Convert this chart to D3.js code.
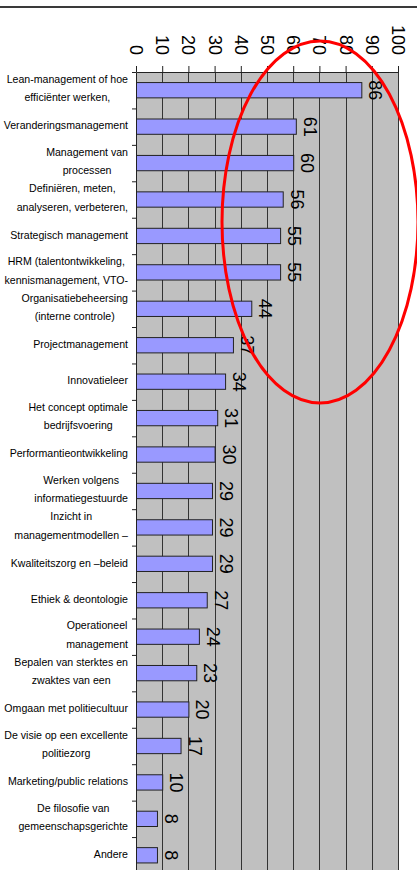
<!DOCTYPE html>
<html>
<head>
<meta charset="utf-8">
<script src="https://cdn.jsdelivr.net/npm/d3@7"></script>
<style>
  html, body { margin: 0; padding: 0; background: #fff; }
  svg { display: block; }
  text { font-family: "Liberation Sans", Arial, sans-serif; fill: #000; }
</style>
</head>
<body>
<svg id="chart" width="417" height="870"></svg>
<script>
const categories = [
  ["Lean-management of hoe", "efficiënter werken,"],
  ["Veranderingsmanagement"],
  ["Management van", "processen"],
  ["Definiëren, meten,", "analyseren, verbeteren,"],
  ["Strategisch management"],
  ["HRM (talentontwikkeling,", "kennismanagement, VTO-"],
  ["Organisatiebeheersing", "(interne controle)"],
  ["Projectmanagement"],
  ["Innovatieleer"],
  ["Het concept optimale", "bedrijfsvoering"],
  ["Performantieontwikkeling"],
  ["Werken volgens", "informatiegestuurde"],
  ["Inzicht in", "managementmodellen –"],
  ["Kwaliteitszorg en –beleid"],
  ["Ethiek & deontologie"],
  ["Operationeel", "management"],
  ["Bepalen van sterktes en", "zwaktes van een"],
  ["Omgaan met politiecultuur"],
  ["De visie op een excellente", "politiezorg"],
  ["Marketing/public relations"],
  ["De filosofie van", "gemeenschapsgerichte"],
  ["Andere"]
];
const values = [86, 61, 60, 56, 55, 55, 44, 37, 34, 31, 30, 29, 29, 29, 27, 24, 23, 20, 17, 10, 8, 8];
const tickValues = [0, 10, 20, 30, 40, 50, 60, 70, 80, 90, 100];

(function () {
const svg = d3.select("#chart");
const pLeft = 136, pRight = 398, pTop = 72, pBottom = 873.5;

const x = d3.scaleLinear().domain([0, 100]).range([pLeft, pRight]);
const idx = d3.range(categories.length);
const y = d3.scaleBand().domain(idx).range([pTop, pBottom]).paddingInner(0.58).paddingOuter(0.29);
const yb = d3.scaleLinear().domain([0, categories.length]).range([pTop, pBottom]);

// top rule
svg.append("line").attr("x1", 0).attr("x2", 417).attr("y1", 7).attr("y2", 7)
  .attr("stroke", "#3a3a3a").attr("stroke-width", 2);

// plot background
svg.append("rect").attr("x", pLeft).attr("y", pTop)
  .attr("width", pRight - pLeft).attr("height", pBottom - pTop)
  .attr("fill", "#C0C0C0");

// gridlines
svg.append("g").selectAll("line").data(tickValues.filter(d => d > 0)).join("line")
  .attr("x1", d => Math.round(x(d)) + 0.5).attr("x2", d => Math.round(x(d)) + 0.5)
  .attr("y1", pTop).attr("y2", pBottom)
  .attr("stroke", "#333").attr("stroke-width", 1);

// bars
svg.append("g").selectAll("rect").data(values).join("rect")
  .attr("x", x(0) + 0.5)
  .attr("y", (d, i) => y(i))
  .attr("width", d => x(d) - x(0))
  .attr("height", y.bandwidth())
  .attr("fill", "#9999FF")
  .attr("stroke", "#222").attr("stroke-width", 1);

// top axis
const xAxis = d3.axisTop(x).tickValues(tickValues).tickSize(6).tickSizeOuter(0);
const gx = svg.append("g").attr("transform", `translate(0,${pTop})`).call(xAxis);
gx.select(".domain").attr("stroke", "#222");
gx.selectAll(".tick line").attr("stroke", "#222");
gx.selectAll(".tick text")
  .attr("font-size", 18)
  .attr("font-family", "Liberation Sans, Arial, sans-serif")
  .attr("fill", "#000")
  .attr("transform", "rotate(90)")
  .attr("text-anchor", "end")
  .attr("x", -(pTop - 55))
  .attr("y", 6.4)
  .attr("dy", 0);

// left axis (category boundary ticks)
const yAxis = d3.axisLeft(yb).tickValues(d3.range(0, categories.length + 1)).tickSize(4).tickSizeOuter(0).tickFormat("");
const gy = svg.append("g").attr("transform", `translate(${pLeft},0)`).call(yAxis);
gy.select(".domain").attr("stroke", "#222");
gy.selectAll(".tick line").attr("stroke", "#222");

// value labels
svg.append("g").selectAll("text").data(values).join("text")
  .attr("transform", (d, i) => `translate(${x(d) + 8},${y(i) + y.bandwidth() / 2}) rotate(90)`)
  .attr("text-anchor", "middle")
  .attr("font-size", 18)
  .text(d => d);

// category labels: wrapped block right-aligned, lines centered within block
const labelRight = 128;
const lg = svg.append("g");
categories.forEach((lines, i) => {
  const cy = y(i) + y.bandwidth() / 2;
  const g = lg.append("g");
  const texts = lines.map((t, j) => {
    const off = lines.length === 1 ? -1 : (j === 0 ? -11 : 7.5);
    return g.append("text")
      .attr("font-size", 10.6)
      .attr("text-anchor", "middle")
      .attr("y", cy + off)
      .attr("dy", "0.35em")
      .text(t);
  });
  const maxW = d3.max(texts, t => t.node().getComputedTextLength());
  texts.forEach(t => t.attr("x", labelRight - maxW / 2));
});

// red ellipse annotation
svg.append("ellipse").attr("cx", 320).attr("cy", 222).attr("rx", 98).attr("ry", 181)
  .attr("fill", "none").attr("stroke", "#FF0000").attr("stroke-width", 3);
})();
</script>
</body>
</html>
